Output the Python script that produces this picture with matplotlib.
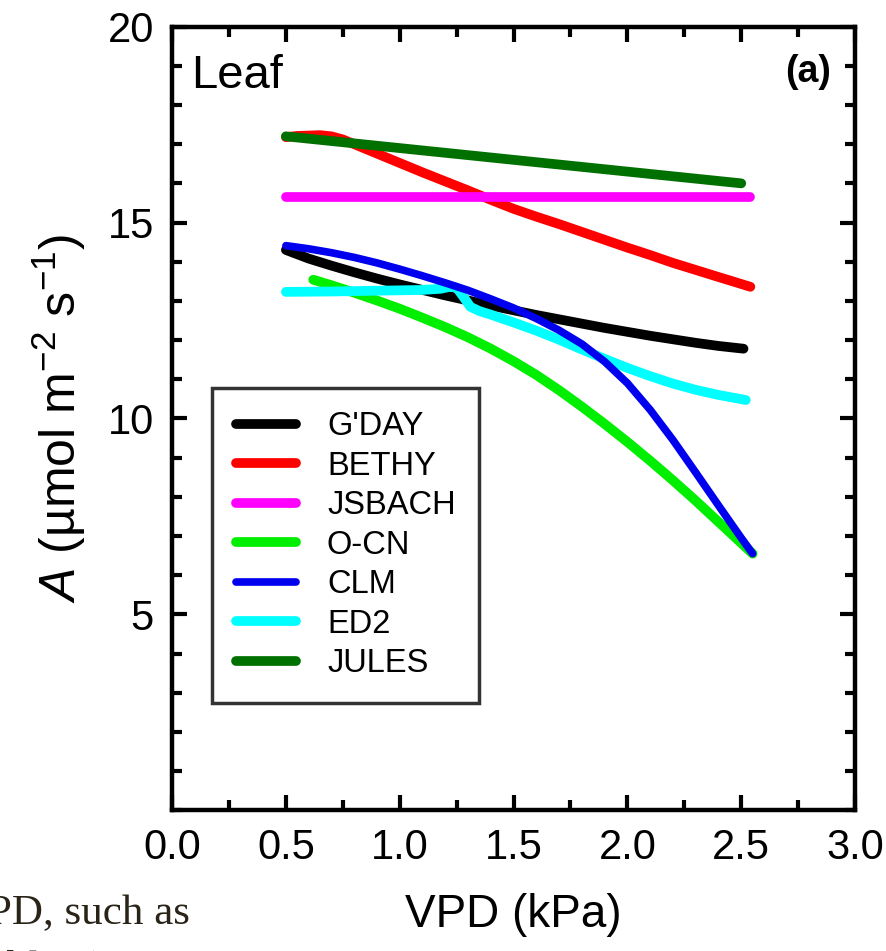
import matplotlib
matplotlib.use("Agg")
import matplotlib.pyplot as plt
from matplotlib.ticker import MultipleLocator

plt.rcParams["font.family"] = ["Liberation Sans", "DejaVu Sans"]
plt.rcParams["mathtext.fontset"] = "custom"
plt.rcParams["mathtext.rm"] = "Liberation Sans"
plt.rcParams["mathtext.it"] = "Liberation Sans:italic"

# Data (VPD in kPa, A in umol m-2 s-1)
gday_x = [0.5, 0.6, 0.7, 0.8, 0.9, 1.0, 1.1, 1.2, 1.3, 1.4, 1.5, 1.6, 1.7,
          1.8, 1.9, 2.0, 2.1, 2.2, 2.3, 2.4, 2.51]
gday_y = [14.30, 14.08, 13.90, 13.73, 13.57, 13.42, 13.28, 13.14, 13.01, 12.88,
          12.76, 12.64, 12.53, 12.42, 12.31, 12.21, 12.11, 12.02, 11.93, 11.85, 11.78]

bethy_x = [0.5, 0.55, 0.6, 0.65, 0.7, 0.75, 0.8, 0.9, 1.0, 1.1, 1.2, 1.3, 1.4,
           1.5, 1.6, 1.7, 1.8, 1.9, 2.0, 2.1, 2.2, 2.3, 2.4, 2.54]
bethy_y = [17.18, 17.21, 17.22, 17.23, 17.20, 17.12, 17.00, 16.76, 16.52, 16.28,
           16.05, 15.82, 15.58, 15.35, 15.15, 14.96, 14.76, 14.56, 14.36, 14.17,
           13.97, 13.79, 13.61, 13.36]

jsbach_x = [0.5, 2.54]
jsbach_y = [15.64, 15.64]

ocn_x = [0.62, 0.7, 0.8, 0.9, 1.0, 1.1, 1.2, 1.3, 1.4, 1.5, 1.6, 1.7, 1.8,
         1.9, 2.0, 2.1, 2.2, 2.3, 2.4, 2.5, 2.55]
ocn_y = [13.54, 13.40, 13.21, 13.01, 12.80, 12.57, 12.33, 12.07, 11.78, 11.46,
         11.11, 10.72, 10.30, 9.86, 9.40, 8.92, 8.42, 7.90, 7.36, 6.82, 6.55]

clm_x = [0.5, 0.6, 0.7, 0.8, 0.9, 1.0, 1.1, 1.2, 1.3, 1.4, 1.5, 1.6, 1.7,
         1.8, 1.9, 2.0, 2.1, 2.2, 2.3, 2.4, 2.5, 2.55]
clm_y = [14.41, 14.33, 14.23, 14.11, 13.97, 13.81, 13.64, 13.46, 13.27, 13.05,
         12.82, 12.55, 12.25, 11.90, 11.45, 10.90, 10.22, 9.45, 8.62, 7.78, 6.95, 6.55]

ed2_x = [0.5, 0.7, 0.9, 1.1, 1.18, 1.22, 1.25, 1.28, 1.31, 1.35, 1.4, 1.5, 1.6,
         1.7, 1.8, 1.9, 2.0, 2.1, 2.2, 2.3, 2.4, 2.52]
ed2_y = [13.23, 13.24, 13.26, 13.28, 13.31, 13.36, 13.34, 13.10, 12.85, 12.74,
         12.65, 12.45, 12.24, 12.01, 11.76, 11.52, 11.29, 11.08, 10.89, 10.73,
         10.60, 10.47]

jules_x = [0.5, 1.0, 1.5, 2.0, 2.5]
jules_y = [17.20, 16.90, 16.60, 16.30, 16.00]

series = [
    ("G'DAY", gday_x, gday_y, "black", 7),
    ("BETHY", bethy_x, bethy_y, "#ff0000", 7),
    ("JSBACH", jsbach_x, jsbach_y, "#ff00ff", 7),
    ("O-CN", ocn_x, ocn_y, "#00ee00", 7),
    ("CLM", clm_x, clm_y, "#0000ee", 5.5),
    ("ED2", ed2_x, ed2_y, "#00ffff", 7),
    ("JULES", jules_x, jules_y, "#007000", 7),
]
# draw order roughly as in the figure (JULES on top of BETHY, CLM over GDAY)
draw_order = ["BETHY", "JULES", "JSBACH", "G'DAY", "O-CN", "ED2", "CLM"]

fig = plt.figure(figsize=(8.87, 9.51), dpi=100, facecolor="white")
ax = fig.add_axes([0.194, 0.148, 0.770, 0.824])

lines = {}
for name, xs, ys, col, lw in series:
    z = 2 + draw_order.index(name)
    (ln,) = ax.plot(xs, ys, color=col, lw=lw, solid_capstyle="round",
                    solid_joinstyle="round", label=name, zorder=z)
    lines[name] = ln

ax.set_xlim(0, 3)
ax.set_ylim(0, 20)
ax.xaxis.set_minor_locator(MultipleLocator(0.25))
ax.yaxis.set_minor_locator(MultipleLocator(1))
ax.set_xticks([0, 0.5, 1.0, 1.5, 2.0, 2.5, 3.0])
ax.set_xticklabels(["0.0", "0.5", "1.0", "1.5", "2.0", "2.5", "3.0"])
ax.set_yticks([5, 10, 15, 20])
ax.set_yticklabels(["5", "10", "15", "20"])

ax.tick_params(which="both", direction="in", top=True, right=True, width=3)
ax.tick_params(which="major", length=11, labelsize=30, pad=13)
ax.tick_params(which="minor", length=7)
for sp in ax.spines.values():
    sp.set_linewidth(3.2)

ax.set_xlabel("VPD (kPa)", fontsize=33, labelpad=18)
ax.set_ylabel(r"$\it{A}$ (µmol m$^{-2}$ s$^{-1}$)", fontsize=36, labelpad=14)

ax.text(0.028, 0.965, "Leaf", transform=ax.transAxes, fontsize=34,
        ha="left", va="top")
ax.text(0.965, 0.965, "(a)", transform=ax.transAxes, fontsize=27,
        fontweight="bold", ha="right", va="top")

leg = ax.legend(handles=[lines[s[0]] for s in series], loc="upper left",
                bbox_to_anchor=(0.0586, 0.539), borderaxespad=0,
                fontsize=23.5, frameon=True, fancybox=False, handlelength=1.85,
                handletextpad=0.95, labelspacing=0.26, borderpad=0.72)
leg.get_frame().set_edgecolor("black")
leg.get_frame().set_linewidth(2.5)
leg.set_zorder(20)

# fragments of the surrounding page text (cut off at the edges as in the source)
fig.text(-0.014, 0.028, "PD, such as", fontsize=31, family="Liberation Serif",
         color="#2a2418", ha="left", va="baseline")
fig.text(-0.014, -0.03, "able 2).", fontsize=31, family="Liberation Serif",
         color="#2a2418", ha="left", va="baseline")

fig.savefig("out.png", dpi=100, facecolor="white")
